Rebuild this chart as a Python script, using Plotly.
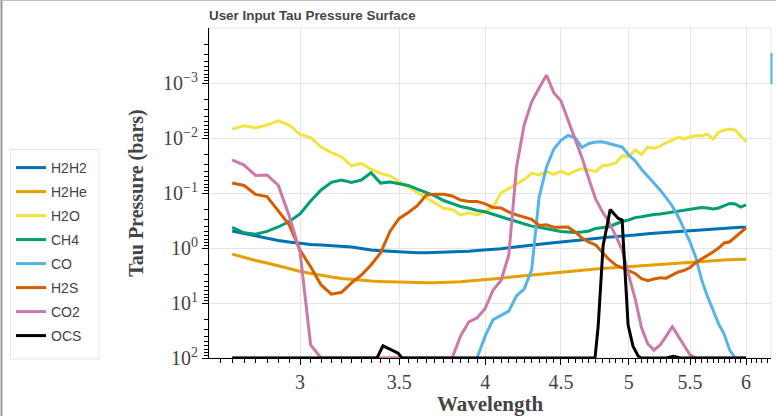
import plotly.graph_objects as go

# ---------------- data ----------------
wavelength = [2.70, 2.75, 2.80, 2.85, 2.90, 2.95, 3.00, 3.05, 3.10, 3.15,
              3.20, 3.25, 3.30, 3.35, 3.40, 3.45, 3.50, 3.55, 3.60, 3.65,
              3.70, 3.75, 3.80, 3.85, 3.90, 3.95, 4.00, 4.05, 4.10, 4.15,
              4.20, 4.25, 4.30, 4.35, 4.40, 4.45, 4.50, 4.55, 4.60, 4.65,
              4.70, 4.75, 4.80, 4.85, 4.90, 4.95, 5.00, 5.05, 5.10, 5.15,
              5.20, 5.25, 5.30, 5.35, 5.40, 5.45, 5.50, 5.55, 5.60, 5.65,
              5.70, 5.75, 5.80, 5.85, 5.90, 5.95, 6.00]

h2h2 = [0.49, 0.545, 0.605, 0.67, 0.73, 0.78, 0.83, 0.86, 0.88, 0.90,
        0.92, 0.96, 1.02, 1.09, 1.12, 1.15, 1.18, 1.21, 1.22, 1.22,
        1.21, 1.20, 1.18, 1.17, 1.15, 1.11, 1.09, 1.06, 1.03, 0.99,
        0.96, 0.92, 0.88, 0.85, 0.83, 0.80, 0.78, 0.75, 0.73, 0.71,
        0.69, 0.67, 0.65, 0.63, 0.62, 0.61, 0.59, 0.58, 0.56, 0.55,
        0.54, 0.53, 0.52, 0.51, 0.50, 0.485, 0.476, 0.47, 0.46, 0.457,
        0.45, 0.444, 0.44, 0.433, 0.427, 0.42, 0.418]

h2he = [1.29, 1.49, 1.69, 1.87, 2.08, 2.36, 2.67, 2.9, 3.16, 3.37,
        3.58, 3.74, 3.9, 4.0, 4.08, 4.15, 4.2, 4.25, 4.29, 4.3,
        4.29, 4.25, 4.2, 4.12, 4.0, 3.9, 3.77, 3.66, 3.54, 3.41,
        3.3, 3.17, 3.1, 3.0, 2.9, 2.82, 2.73, 2.67, 2.62, 2.54,
        2.48, 2.41, 2.37, 2.32, 2.27, 2.22, 2.19, 2.14, 2.11, 2.06,
        2.03, 1.99, 1.95, 1.91, 1.87, 1.84, 1.81, 1.78, 1.75, 1.72,
        1.70, 1.67, 1.65, 1.64, 1.62, 1.61, 1.60]

h2o = [0.0069, 0.0060, 0.0065, 0.0058, 0.0049, 0.0058, 0.0086, 0.0098, 0.0146, 0.0184,
       0.022, 0.032, 0.029, 0.037, 0.044, 0.049, 0.062, 0.078, 0.095, 0.12,
       0.15, 0.19, 0.20, 0.25, 0.23, 0.25, 0.22, 0.18, 0.10, 0.083,
       0.069, 0.057, 0.044, 0.047, 0.041, 0.046, 0.040, 0.046, 0.040, 0.036,
       0.038, 0.041, 0.032, 0.031, 0.0285, 0.021, 0.022, 0.0165, 0.020, 0.0146,
       0.0155, 0.014, 0.0121, 0.011, 0.0096, 0.0104, 0.0096, 0.0090, 0.0092, 0.0086,
       0.0105, 0.0078, 0.0072, 0.0069, 0.0072, 0.0090, 0.0117]

ch4 = [0.42, 0.53, 0.56, 0.50, 0.415, 0.33, 0.24, 0.14, 0.088, 0.064,
       0.058, 0.064, 0.058, 0.043, 0.066, 0.063, 0.068, 0.073, 0.085, 0.098,
       0.113, 0.137, 0.158, 0.176, 0.19, 0.208, 0.22, 0.246, 0.268, 0.30,
       0.33, 0.366, 0.40, 0.42, 0.45, 0.48, 0.50, 0.51, 0.52, 0.51,
       0.49, 0.44, 0.42, 0.41, 0.366, 0.33, 0.31, 0.28, 0.27, 0.256,
       0.246, 0.24, 0.23, 0.223, 0.217, 0.208, 0.20, 0.19, 0.184, 0.187,
       0.195, 0.187, 0.172, 0.155, 0.158, 0.18, 0.165]

co = [100, 100, 100, 100, 100, 100, 100, 100, 100, 100,
      100, 100, 100, 100, 100, 100, 100, 100, 100, 100,
      100, 100, 100, 100, 100, 100, 40, 20, 16.8, 14,
      7.4, 5.6, 2.5, 0.12, 0.034, 0.016, 0.011, 0.0090, 0.0098, 0.0149,
      0.0126, 0.0118, 0.0117, 0.0125, 0.0137, 0.0146, 0.0204, 0.026, 0.037, 0.049,
      0.066, 0.088, 0.123, 0.172, 0.27, 0.47, 0.78, 1.5, 3.8, 7.5,
      13, 24, 37, 72, 100, 100, 100]

h2s = [0.066, 0.073, 0.106, 0.116, 0.21, 0.38, 1.09, 2.2, 4.7, 6.9,
       6.4, 4.3, 3.1, 2.04, 1.23, 0.5, 0.29, 0.226, 0.17, 0.109,
       0.105, 0.105, 0.113, 0.134, 0.142, 0.142, 0.158, 0.183, 0.187, 0.222,
       0.25, 0.27, 0.30, 0.39, 0.38, 0.42, 0.42, 0.415, 0.51, 0.66,
       0.78, 0.88, 1.21, 1.62, 2.04, 2.3, 2.56, 2.9, 3.6, 3.93,
       3.66, 3.47, 3.54, 3.16, 2.73, 2.56, 2.26, 1.84, 1.58, 1.40,
       1.18, 1.0, 0.81, 0.77, 0.63, 0.51, 0.43]

co2 = [0.025, 0.031, 0.048, 0.047, 0.072, 0.26, 1.18, 58, 100, 100,
       100, 100, 100, 100, 100, 100, 100, 100, 100, 100,
       100, 100, 100, 40, 22, 18.7, 12.6, 5.8, 3.9, 1.34,
       0.034, 0.0058, 0.0022, 0.00123, 0.00072, 0.0015, 0.0021, 0.0047, 0.010, 0.023,
       0.056, 0.129, 0.22, 0.34, 0.6, 1.09, 3.1, 8.3, 28, 55,
       72, 58, 40, 27, 40, 60, 88, 100, 100, 100,
       100, 100, 100, 100, 100, 100, 100]

ocs_wavelength = [2.70, 3.381, 3.413, 3.461, 3.494, 3.515, 4.745, 4.768, 4.783, 4.805,
                  4.835, 4.858, 4.895, 4.920, 4.949, 4.972, 4.995, 5.034, 5.074, 5.097,
                  5.30, 5.36, 5.42, 6.00]
ocs = [100, 100, 60, 72, 82, 100, 100, 27, 5.8, 0.9,
       0.39, 0.2, 0.25, 0.29, 0.31, 2.5, 25, 62, 92, 100,
       100, 93, 100, 100]

series_names = ["H2H2", "H2He", "H2O", "CH4", "CO", "H2S", "CO2", "OCS"]
series_values = [h2h2, h2he, h2o, ch4, co, h2s, co2, ocs]
series_x = [wavelength] * 7 + [ocs_wavelength]
colors = ["#0072B2", "#E69F00", "#F0E442", "#009E73", "#56B4E9", "#D55E00", "#CC79A7", "#000000"]

x_major = [3, 3.5, 4, 4.5, 5, 5.5, 6]
x_major_text = ["3", "3.5", "4", "4.5", "5", "5.5", "6"]
y_major = [1e-3, 1e-2, 1e-1, 1e0, 1e1, 1e2]
y_major_text = ["10<sup>\u22123</sup>", "10<sup>\u22122</sup>", "10<sup>\u22121</sup>",
                "10<sup>0</sup>", "10<sup>1</sup>", "10<sup>2</sup>"]

# ---------------- figure ----------------
fig = go.Figure()
for name, xs, ys, c in zip(series_names, series_x, series_values, colors):
    fig.add_trace(go.Scatter(x=xs, y=ys, mode="lines", name=name, legendgroup=name,
                             line=dict(color=c, width=3)))

x_minor = [round(2.60 + 0.05 * i, 2) for i in range(74)]
x_minor = [v for v in x_minor if all(abs(v - m) > 1e-6 for m in x_major)]
y_minor = [k * 10.0 ** n for n in range(-4, 2) for k in range(2, 10)]

W, H = 776, 416
L, R, T, B = 209, 5, 28, 58
pw, ph = W - L - R, H - T - B

def px_x(p):
    return (p - L) / pw

def px_y(p):
    return (H - B - p) / ph

serif = "Liberation Serif"
sans = "Liberation Sans"

fig.update_layout(
    width=W, height=H,
    margin=dict(l=L, r=R, t=T, b=B, pad=0, autoexpand=False),
    paper_bgcolor="white", plot_bgcolor="white",
    title=dict(text="<b>User Input Tau Pressure Surface</b>",
               font=dict(family=sans, size=13.4, color="#444"),
               x=L / W, xref="container", xanchor="left",
               y=1 - 15 / H, yref="container", yanchor="middle"),
    legend=dict(x=px_x(11), y=px_y(152), xanchor="left", yanchor="top",
                borderwidth=0, bgcolor="rgba(0,0,0,0)",
                font=dict(family=sans, size=14, color="#444"),
                tracegroupgap=2.8, itemwidth=30),
    xaxis=dict(type="log", range=[0.4157, 0.7950], automargin=False,
               tickvals=x_major, ticktext=x_major_text,
               showgrid=True, gridcolor="#e5e5e5", gridwidth=1, zeroline=False,
               showline=True, linecolor="black", linewidth=1,
               ticks="outside", ticklen=6, tickcolor="black", tickwidth=1,
               minor=dict(tickvals=x_minor, ticks="outside", ticklen=4,
                          tickcolor="black", showgrid=False),
               tickfont=dict(family=serif, size=20, color="#444"),
               title=dict(text="<b>Wavelength</b>", standoff=8,
                          font=dict(family=serif, size=21, color="#444"))),
    yaxis=dict(type="log", range=[2, -4], automargin=False,
               tickvals=y_major, ticktext=y_major_text,
               showgrid=True, gridcolor="#e5e5e5", gridwidth=1, zeroline=False,
               showline=True, linecolor="black", linewidth=1,
               ticks="outside", ticklen=6, tickcolor="black", tickwidth=1,
               minor=dict(tickvals=y_minor, ticks="outside", ticklen=4,
                          tickcolor="black", showgrid=False),
               tickfont=dict(family=serif, size=20, color="#444"),
               title=dict(text="<b>Tau Pressure (bars)</b>", standoff=14,
                          font=dict(family=serif, size=20, color="#444"))),
    shapes=[
        dict(type="rect", xref="paper", yref="paper", x0=0, x1=1, y0=0, y1=1,
             line=dict(color="#e5e5e5", width=1), layer="below"),
        dict(type="rect", xref="paper", yref="paper", x0=px_x(10.5), x1=px_x(99),
             y0=px_y(359), y1=px_y(149.5), line=dict(color="#e5e5e5", width=1),
             fillcolor="rgba(0,0,0,0)", layer="below"),
        dict(type="line", xref="paper", yref="paper", x0=px_x(1.5), x1=px_x(1.5),
             y0=px_y(0), y1=px_y(416), line=dict(color="#999999", width=2)),
        dict(type="line", xref="paper", yref="paper", x0=px_x(0), x1=px_x(776),
             y0=px_y(0.5), y1=px_y(0.5), line=dict(color="#bbbbbb", width=1)),
        dict(type="line", xref="paper", yref="paper", x0=px_x(771.5), x1=px_x(771.5),
             y0=px_y(53), y1=px_y(84), line=dict(color="#5aaee6", width=2)),
    ],
)

fig.write_html("out.html")
